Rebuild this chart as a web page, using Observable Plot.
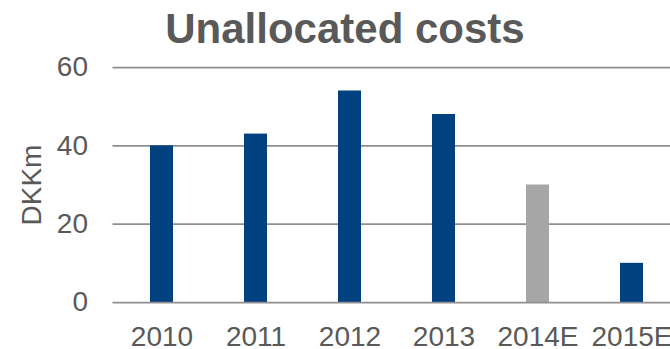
<!DOCTYPE html>
<html>
<head>
<meta charset="utf-8">
<script src="https://cdn.jsdelivr.net/npm/d3@7"></script>
<script src="https://cdn.jsdelivr.net/npm/@observablehq/plot@0.6"></script>
<style>
  html, body { margin: 0; padding: 0; background: #fff; overflow: hidden; }
  #title {
    width: 650px; height: 50px; padding-left: 20px;
    font-family: "Liberation Sans", Arial, sans-serif;
    font-weight: bold; font-size: 42px; line-height: 58px;
    color: #595959; text-align: center; overflow: visible; white-space: nowrap;
  }
</style>
</head>
<body>
<div id="title">Unallocated costs</div>
<div id="chart"></div>
<script>
const years = ["2010", "2011", "2012", "2013", "2014E", "2015E"];
const costs = [40, 43, 54, 48, 30, 10];
const yTicks = [0, 20, 40, 60];
const estimateYears = ["2014E"];

const data = years.map((year, i) => ({year, value: costs[i]}));

const BLUE = "#02417f";
const GRAY = "#a6a6a6";
const TEXT = "#595959";
const GRID = "#8f8f8f";

const plot = Plot.plot({
  width: 670,
  height: 299,
  marginTop: 17,
  marginBottom: 47,
  marginLeft: 112.5,
  marginRight: 0,
  style: {fontFamily: "'Liberation Sans', Arial, sans-serif", color: TEXT, background: "#fff", overflow: "hidden"},
  x: {domain: years, range: [112.5, 679.5], paddingInner: 0.757, paddingOuter: 0.3785, align: 0.5},
  y: {domain: [0, 60]},
  marks: [
    Plot.ruleY(yTicks.filter(t => t !== 0), {stroke: GRID, strokeWidth: 1.75}),
    Plot.barY(data, {x: "year", y: "value", fill: d => estimateYears.includes(d.year) ? GRAY : BLUE}),
    Plot.ruleY([0], {stroke: GRID, strokeWidth: 1.75}),
    Plot.axisY({ticks: yTicks, tickSize: 0, tickPadding: 25, fontSize: 28, label: "DKKm", labelAnchor: "center", labelOffset: 92, labelArrow: "none"}),
    Plot.axisX({tickSize: 0, tickPadding: 24, fontSize: 28, label: null})
  ]
});
document.getElementById("chart").appendChild(plot);
</script>
</body>
</html>
